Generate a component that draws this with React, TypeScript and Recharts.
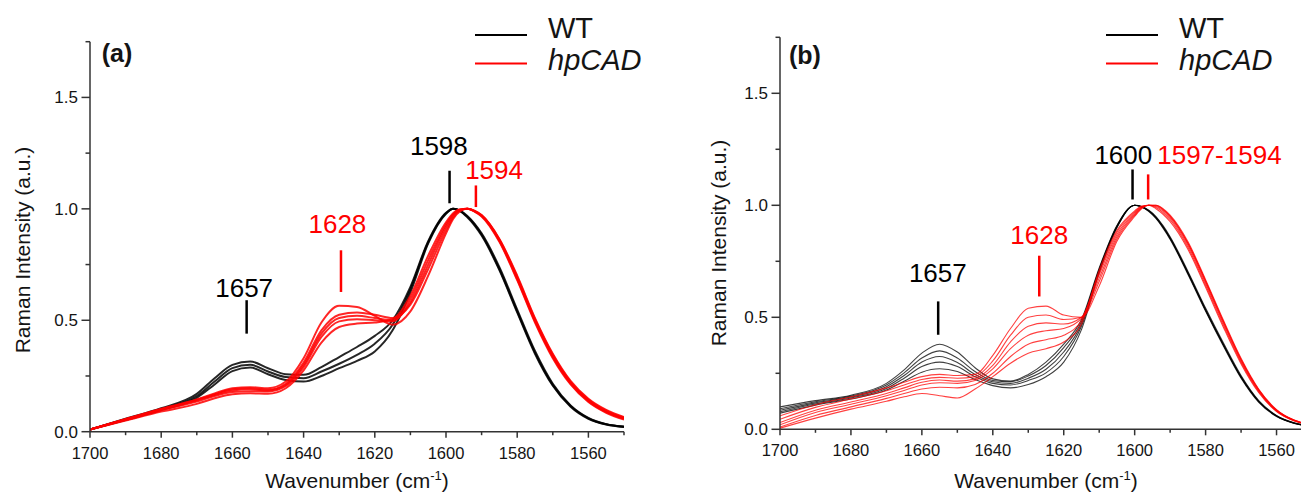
import { LineChart, Line, XAxis, YAxis, ReferenceLine, ReferenceDot, Legend, Label } from 'recharts';

const FONT = '"Liberation Sans", Arial, Helvetica, sans-serif';
const AXIS_COLOR = '#333333';
const TEXT_COLOR = '#141414';
const WT_COLOR = '#000000';
const HP_COLOR = '#ff0000';

// wavenumber grid (cm-1), finer around the main band
const wavenumbers = [
  1700, 1690, 1680, 1670, 1665, 1660, 1655, 1650, 1645, 1640, 1635, 1630, 1625, 1620, 1615, 1610,
  1605, 1600, 1598, 1596, 1594, 1592, 1590, 1585, 1580, 1575, 1570, 1565, 1560, 1555, 1550,
];
const xTicks = [1700, 1690, 1680, 1670, 1660, 1650, 1640, 1630, 1620, 1610, 1600, 1590, 1580, 1570, 1560, 1550];
const yTicks = [0, 0.25, 0.5, 0.75, 1, 1.25, 1.5, 1.75];
const seriesNames = ['WT', 'hpCAD'];

// panel (a)
const wtA = [
  [0.010, 0.055, 0.100, 0.160, 0.225, 0.285, 0.300, 0.270, 0.245, 0.240, 0.270, 0.305, 0.345, 0.395, 0.480, 0.640, 0.850, 0.980, 1.000, 0.990, 0.965, 0.930, 0.885, 0.730, 0.540, 0.355, 0.210, 0.115, 0.060, 0.033, 0.022],
  [0.010, 0.058, 0.105, 0.170, 0.240, 0.300, 0.315, 0.285, 0.258, 0.255, 0.290, 0.335, 0.380, 0.430, 0.500, 0.650, 0.855, 0.982, 1.000, 0.990, 0.962, 0.926, 0.880, 0.725, 0.535, 0.350, 0.206, 0.112, 0.058, 0.032, 0.021],
  [0.010, 0.052, 0.097, 0.152, 0.212, 0.272, 0.288, 0.258, 0.232, 0.225, 0.250, 0.285, 0.318, 0.360, 0.455, 0.625, 0.845, 0.978, 1.000, 0.992, 0.968, 0.934, 0.890, 0.738, 0.548, 0.362, 0.215, 0.118, 0.062, 0.034, 0.023],
];
const hpA = [
  [0.010, 0.055, 0.100, 0.140, 0.165, 0.185, 0.190, 0.185, 0.210, 0.300, 0.440, 0.510, 0.520, 0.510, 0.500, 0.580, 0.750, 0.920, 0.970, 0.995, 1.000, 0.990, 0.970, 0.860, 0.690, 0.500, 0.340, 0.220, 0.140, 0.090, 0.060],
  [0.010, 0.057, 0.103, 0.145, 0.172, 0.195, 0.200, 0.195, 0.225, 0.330, 0.490, 0.565, 0.560, 0.520, 0.480, 0.540, 0.700, 0.890, 0.955, 0.990, 1.000, 0.992, 0.972, 0.865, 0.700, 0.510, 0.350, 0.228, 0.148, 0.098, 0.066],
  [0.010, 0.050, 0.090, 0.125, 0.150, 0.168, 0.172, 0.170, 0.195, 0.275, 0.400, 0.470, 0.485, 0.490, 0.505, 0.610, 0.790, 0.940, 0.980, 0.998, 1.000, 0.988, 0.966, 0.852, 0.680, 0.490, 0.330, 0.212, 0.133, 0.085, 0.055],
  [0.010, 0.056, 0.101, 0.143, 0.168, 0.190, 0.195, 0.188, 0.215, 0.310, 0.455, 0.525, 0.535, 0.525, 0.510, 0.570, 0.730, 0.905, 0.962, 0.993, 1.000, 0.991, 0.971, 0.862, 0.695, 0.505, 0.345, 0.224, 0.144, 0.094, 0.063],
  [0.010, 0.053, 0.096, 0.135, 0.160, 0.178, 0.182, 0.180, 0.205, 0.290, 0.425, 0.495, 0.505, 0.500, 0.495, 0.595, 0.770, 0.930, 0.975, 0.997, 1.000, 0.989, 0.968, 0.856, 0.685, 0.495, 0.335, 0.216, 0.137, 0.088, 0.058],
];

// panel (b)
const wtB = [
  [0.100, 0.128, 0.152, 0.205, 0.265, 0.340, 0.380, 0.345, 0.275, 0.225, 0.215, 0.245, 0.300, 0.380, 0.490, 0.720, 0.910, 1.000, 0.993, 0.974, 0.944, 0.902, 0.852, 0.697, 0.532, 0.377, 0.232, 0.123, 0.059, 0.027, 0.013],
  [0.092, 0.123, 0.148, 0.198, 0.252, 0.318, 0.350, 0.318, 0.258, 0.218, 0.212, 0.238, 0.285, 0.365, 0.480, 0.715, 0.908, 1.000, 0.994, 0.976, 0.947, 0.905, 0.855, 0.700, 0.535, 0.380, 0.235, 0.125, 0.060, 0.028, 0.013],
  [0.085, 0.118, 0.144, 0.190, 0.240, 0.300, 0.325, 0.298, 0.245, 0.212, 0.205, 0.228, 0.268, 0.345, 0.470, 0.710, 0.905, 1.000, 0.995, 0.978, 0.950, 0.909, 0.860, 0.706, 0.541, 0.386, 0.240, 0.128, 0.062, 0.029, 0.014],
  [0.078, 0.113, 0.140, 0.182, 0.228, 0.280, 0.300, 0.280, 0.235, 0.205, 0.198, 0.218, 0.252, 0.325, 0.460, 0.705, 0.902, 1.000, 0.993, 0.975, 0.945, 0.903, 0.853, 0.698, 0.533, 0.378, 0.233, 0.124, 0.059, 0.027, 0.013],
  [0.072, 0.108, 0.135, 0.175, 0.215, 0.255, 0.270, 0.258, 0.222, 0.195, 0.185, 0.200, 0.235, 0.300, 0.445, 0.700, 0.900, 1.000, 0.992, 0.972, 0.941, 0.898, 0.848, 0.692, 0.527, 0.372, 0.228, 0.120, 0.057, 0.026, 0.012],
];
const hpB = [
  [0.060, 0.110, 0.145, 0.185, 0.210, 0.235, 0.245, 0.240, 0.245, 0.330, 0.450, 0.540, 0.550, 0.510, 0.500, 0.640, 0.840, 0.950, 0.985, 1.000, 1.000, 0.982, 0.952, 0.832, 0.662, 0.482, 0.312, 0.176, 0.086, 0.040, 0.020],
  [0.045, 0.098, 0.135, 0.172, 0.198, 0.222, 0.232, 0.228, 0.235, 0.305, 0.420, 0.500, 0.510, 0.490, 0.500, 0.660, 0.850, 0.955, 0.988, 1.000, 1.000, 0.985, 0.956, 0.838, 0.668, 0.488, 0.317, 0.179, 0.088, 0.041, 0.020],
  [0.030, 0.085, 0.122, 0.160, 0.185, 0.210, 0.220, 0.215, 0.225, 0.285, 0.390, 0.460, 0.475, 0.470, 0.500, 0.675, 0.860, 0.960, 0.990, 1.000, 0.998, 0.980, 0.950, 0.830, 0.660, 0.480, 0.310, 0.175, 0.085, 0.040, 0.020],
  [0.020, 0.075, 0.112, 0.150, 0.173, 0.198, 0.208, 0.205, 0.218, 0.270, 0.360, 0.420, 0.440, 0.450, 0.495, 0.690, 0.870, 0.965, 0.992, 1.000, 0.995, 0.975, 0.944, 0.822, 0.652, 0.472, 0.304, 0.171, 0.083, 0.039, 0.019],
  [0.010, 0.062, 0.100, 0.138, 0.160, 0.180, 0.188, 0.185, 0.200, 0.250, 0.325, 0.380, 0.400, 0.420, 0.485, 0.700, 0.880, 0.970, 0.995, 1.000, 0.990, 0.968, 0.936, 0.813, 0.643, 0.464, 0.298, 0.167, 0.081, 0.038, 0.019],
  [0.005, 0.050, 0.090, 0.125, 0.145, 0.160, 0.150, 0.140, 0.180, 0.235, 0.295, 0.340, 0.360, 0.390, 0.470, 0.710, 0.888, 0.975, 0.997, 1.000, 0.985, 0.960, 0.927, 0.804, 0.634, 0.456, 0.292, 0.163, 0.079, 0.037, 0.018],
];

// peak marks: series index, mark wavenumber, mark span, label position
const peaksA = [
  { text: '1657', group: 0, x: 1656, y1: 0.44, y2: 0.59, tx: 1656.7, ty: 0.648 },
  { text: '1628', group: 1, x: 1629.5, y1: 0.627, y2: 0.814, tx: 1630.5, ty: 0.935 },
  { text: '1598', group: 0, x: 1599, y1: 1.025, y2: 1.171, tx: 1602, ty: 1.284 },
  { text: '1594', group: 1, x: 1591.6, y1: 1.008, y2: 1.105, tx: 1586.5, ty: 1.175 },
];
const peaksB = [
  { text: '1657', group: 0, x: 1655.4, y1: 0.422, y2: 0.571, tx: 1655.5, ty: 0.698 },
  { text: '1628', group: 1, x: 1626.9, y1: 0.593, y2: 0.775, tx: 1626.9, ty: 0.869 },
  { text: '1600', group: 0, x: 1600.6, y1: 1.026, y2: 1.16, tx: 1603.2, ty: 1.227 },
  { text: '1597-1594', group: 1, x: 1596.2, y1: 1.026, y2: 1.138, tx: 1576.1, ty: 1.227 },
];

const groupColor = (g: number) => (g === 0 ? WT_COLOR : HP_COLOR);

function buildRows(wt: number[][], hp: number[][]) {
  return wavenumbers.map((w, i) => {
    const row: Record<string, number> = { w };
    wt.forEach((s, k) => (row['wt' + k] = s[i]));
    hp.forEach((s, k) => (row['hp' + k] = s[i]));
    return row;
  });
}

function XTick(props: any) {
  const { x, y, payload } = props;
  const v = payload.value;
  const major = v % 20 === 0;
  return (
    <g>
      <line x1={x} x2={x} y1={y} y2={y + (major ? 6 : 3.5)} stroke={AXIS_COLOR} strokeWidth={1.5} />
      {major && (
        <text x={x} y={y + 27} textAnchor="middle" fontSize={16.5} fontFamily={FONT} fill={TEXT_COLOR}>
          {v}
        </text>
      )}
    </g>
  );
}

function YTick(props: any) {
  const { x, y, payload } = props;
  const v = payload.value;
  const major = Math.abs(v * 2 - Math.round(v * 2)) < 1e-6;
  return (
    <g>
      <line x1={x - (major ? 8.5 : 4.5)} x2={x} y1={y} y2={y} stroke={AXIS_COLOR} strokeWidth={1.5} />
      {major && (
        <text x={x - 12} y={y + 6} textAnchor="end" fontSize={17} fontFamily={FONT} fill={TEXT_COLOR}>
          {v.toFixed(1)}
        </text>
      )}
    </g>
  );
}

function LegendBox() {
  return (
    <svg width={240} height={80} style={{ display: 'block' }}>
      <line x1={0} x2={52} y1={35} y2={35} stroke={WT_COLOR} strokeWidth={2} />
      <text x={73} y={38} fontSize={29} fontFamily={FONT} fill={TEXT_COLOR}>
        {seriesNames[0]}
      </text>
      <line x1={0} x2={52} y1={63.5} y2={63.5} stroke={HP_COLOR} strokeWidth={2} />
      <text x={73} y={70} fontSize={29} fontFamily={FONT} fontStyle="italic" fill={TEXT_COLOR}>
        {seriesNames[1]}
      </text>
    </svg>
  );
}

type Peak = { text: string; group: number; x: number; y1: number; y2: number; tx: number; ty: number };

type PanelProps = {
  tag: string;
  wt: number[][];
  hp: number[][];
  peaks: Peak[];
  left: number;
  width: number;
  margin: { top: number; right: number; bottom: number; left: number };
  legendLeft: number;
  tagX: number;
  tagY: number;
  yTitleX: number;
  yTitleY: number;
  lineWidth: number;
  lineOpacity: number;
};

function Panel(p: PanelProps) {
  const rows = buildRows(p.wt, p.hp);
  return (
    <div style={{ position: 'absolute', left: p.left, top: 0 }}>
      <LineChart width={p.width} height={493} data={rows} margin={p.margin}>
        <XAxis
          dataKey="w"
          type="number"
          domain={[1550, 1700]}
          reversed
          allowDataOverflow
          ticks={xTicks}
          interval={0}
          tickSize={0}
          tickMargin={0}
          tickLine={false}
          tick={XTick}
          axisLine={{ stroke: AXIS_COLOR, strokeWidth: 1.5 }}
          height={60}
          label={
            <Label
              content={(lp: any) => {
                const vb = lp.viewBox;
                return (
                  <text x={vb.x + vb.width / 2} y={488} textAnchor="middle" fontSize={21} fontFamily={FONT} fill={TEXT_COLOR}>
                    <tspan>Wavenumber (cm</tspan>
                    <tspan dy={-8} fontSize={13}>-1</tspan>
                    <tspan dy={8}>)</tspan>
                  </text>
                );
              }}
            />
          }
        />
        <YAxis
          type="number"
          domain={[0, 1.75]}
          allowDataOverflow
          ticks={yTicks}
          interval={0}
          tickSize={0}
          tickMargin={0}
          tickLine={false}
          tick={YTick}
          axisLine={{ stroke: AXIS_COLOR, strokeWidth: 1.5 }}
          width={90}
          label={
            <Label
              content={() => (
                <g>
                  <text
                    x={p.yTitleX}
                    y={p.yTitleY}
                    transform={`rotate(-90 ${p.yTitleX} ${p.yTitleY})`}
                    textAnchor="middle"
                    dominantBaseline="central"
                    fontSize={21}
                    fontFamily={FONT}
                    fill={TEXT_COLOR}
                  >
                    Raman Intensity (a.u.)
                  </text>
                  <text x={p.tagX} y={p.tagY} fontSize={25} fontWeight="bold" fontFamily={FONT} fill={TEXT_COLOR}>
                    {p.tag}
                  </text>
                </g>
              )}
            />
          }
        />
        {p.wt.map((_, k) => (
          <Line
            key={'wt' + k}
            dataKey={'wt' + k}
            type="monotone"
            stroke={WT_COLOR}
            strokeWidth={p.lineWidth}
            strokeOpacity={p.lineOpacity}
            dot={false}
            activeDot={false}
            isAnimationActive={false}
          />
        ))}
        {p.hp.map((_, k) => (
          <Line
            key={'hp' + k}
            dataKey={'hp' + k}
            type="monotone"
            stroke={HP_COLOR}
            strokeWidth={p.lineWidth}
            strokeOpacity={p.lineOpacity}
            dot={false}
            activeDot={false}
            isAnimationActive={false}
          />
        ))}
        {p.peaks.map((pk) => (
          <ReferenceLine
            key={'m' + pk.text}
            segment={[
              { x: pk.x, y: pk.y1 },
              { x: pk.x, y: pk.y2 },
            ]}
            stroke={groupColor(pk.group)}
            strokeWidth={2.5}
          />
        ))}
        {p.peaks.map((pk) => (
          <ReferenceDot
            key={'t' + pk.text}
            x={pk.tx}
            y={pk.ty}
            r={0}
            fill="none"
            stroke="none"
            label={{ value: pk.text, position: 'center', fill: groupColor(pk.group), fontSize: 26, fontFamily: FONT }}
          />
        ))}
        <Legend
          layout="horizontal"
          verticalAlign="middle"
          align="center"
          wrapperStyle={{ left: p.legendLeft, top: 0, width: 240, height: 80 }}
          content={() => <LegendBox />}
        />
      </LineChart>
    </div>
  );
}

export default function App() {
  return (
    <div style={{ position: 'absolute', left: 0, top: 0, width: 1301, height: 493, overflow: 'hidden', background: '#fff' }}>
      <Panel
        tag="(a)"
        wt={wtA}
        hp={hpA}
        peaks={peaksA}
        left={0}
        width={650}
        margin={{ top: 41.7, right: 26, bottom: 1.3, left: 0 }}
        legendLeft={475}
        tagX={101.7}
        tagY={62}
        yTitleX={22}
        yTitleY={250}
        lineWidth={2}
        lineOpacity={0.85}
      />
      <Panel
        tag="(b)"
        wt={wtB}
        hp={hpB}
        peaks={peaksB}
        left={650}
        width={670}
        margin={{ top: 37.3, right: 8, bottom: 3.7, left: 40 }}
        legendLeft={456}
        tagX={139}
        tagY={64}
        yTitleX={68}
        yTitleY={243}
        lineWidth={1.1}
        lineOpacity={0.75}
      />
    </div>
  );
}
